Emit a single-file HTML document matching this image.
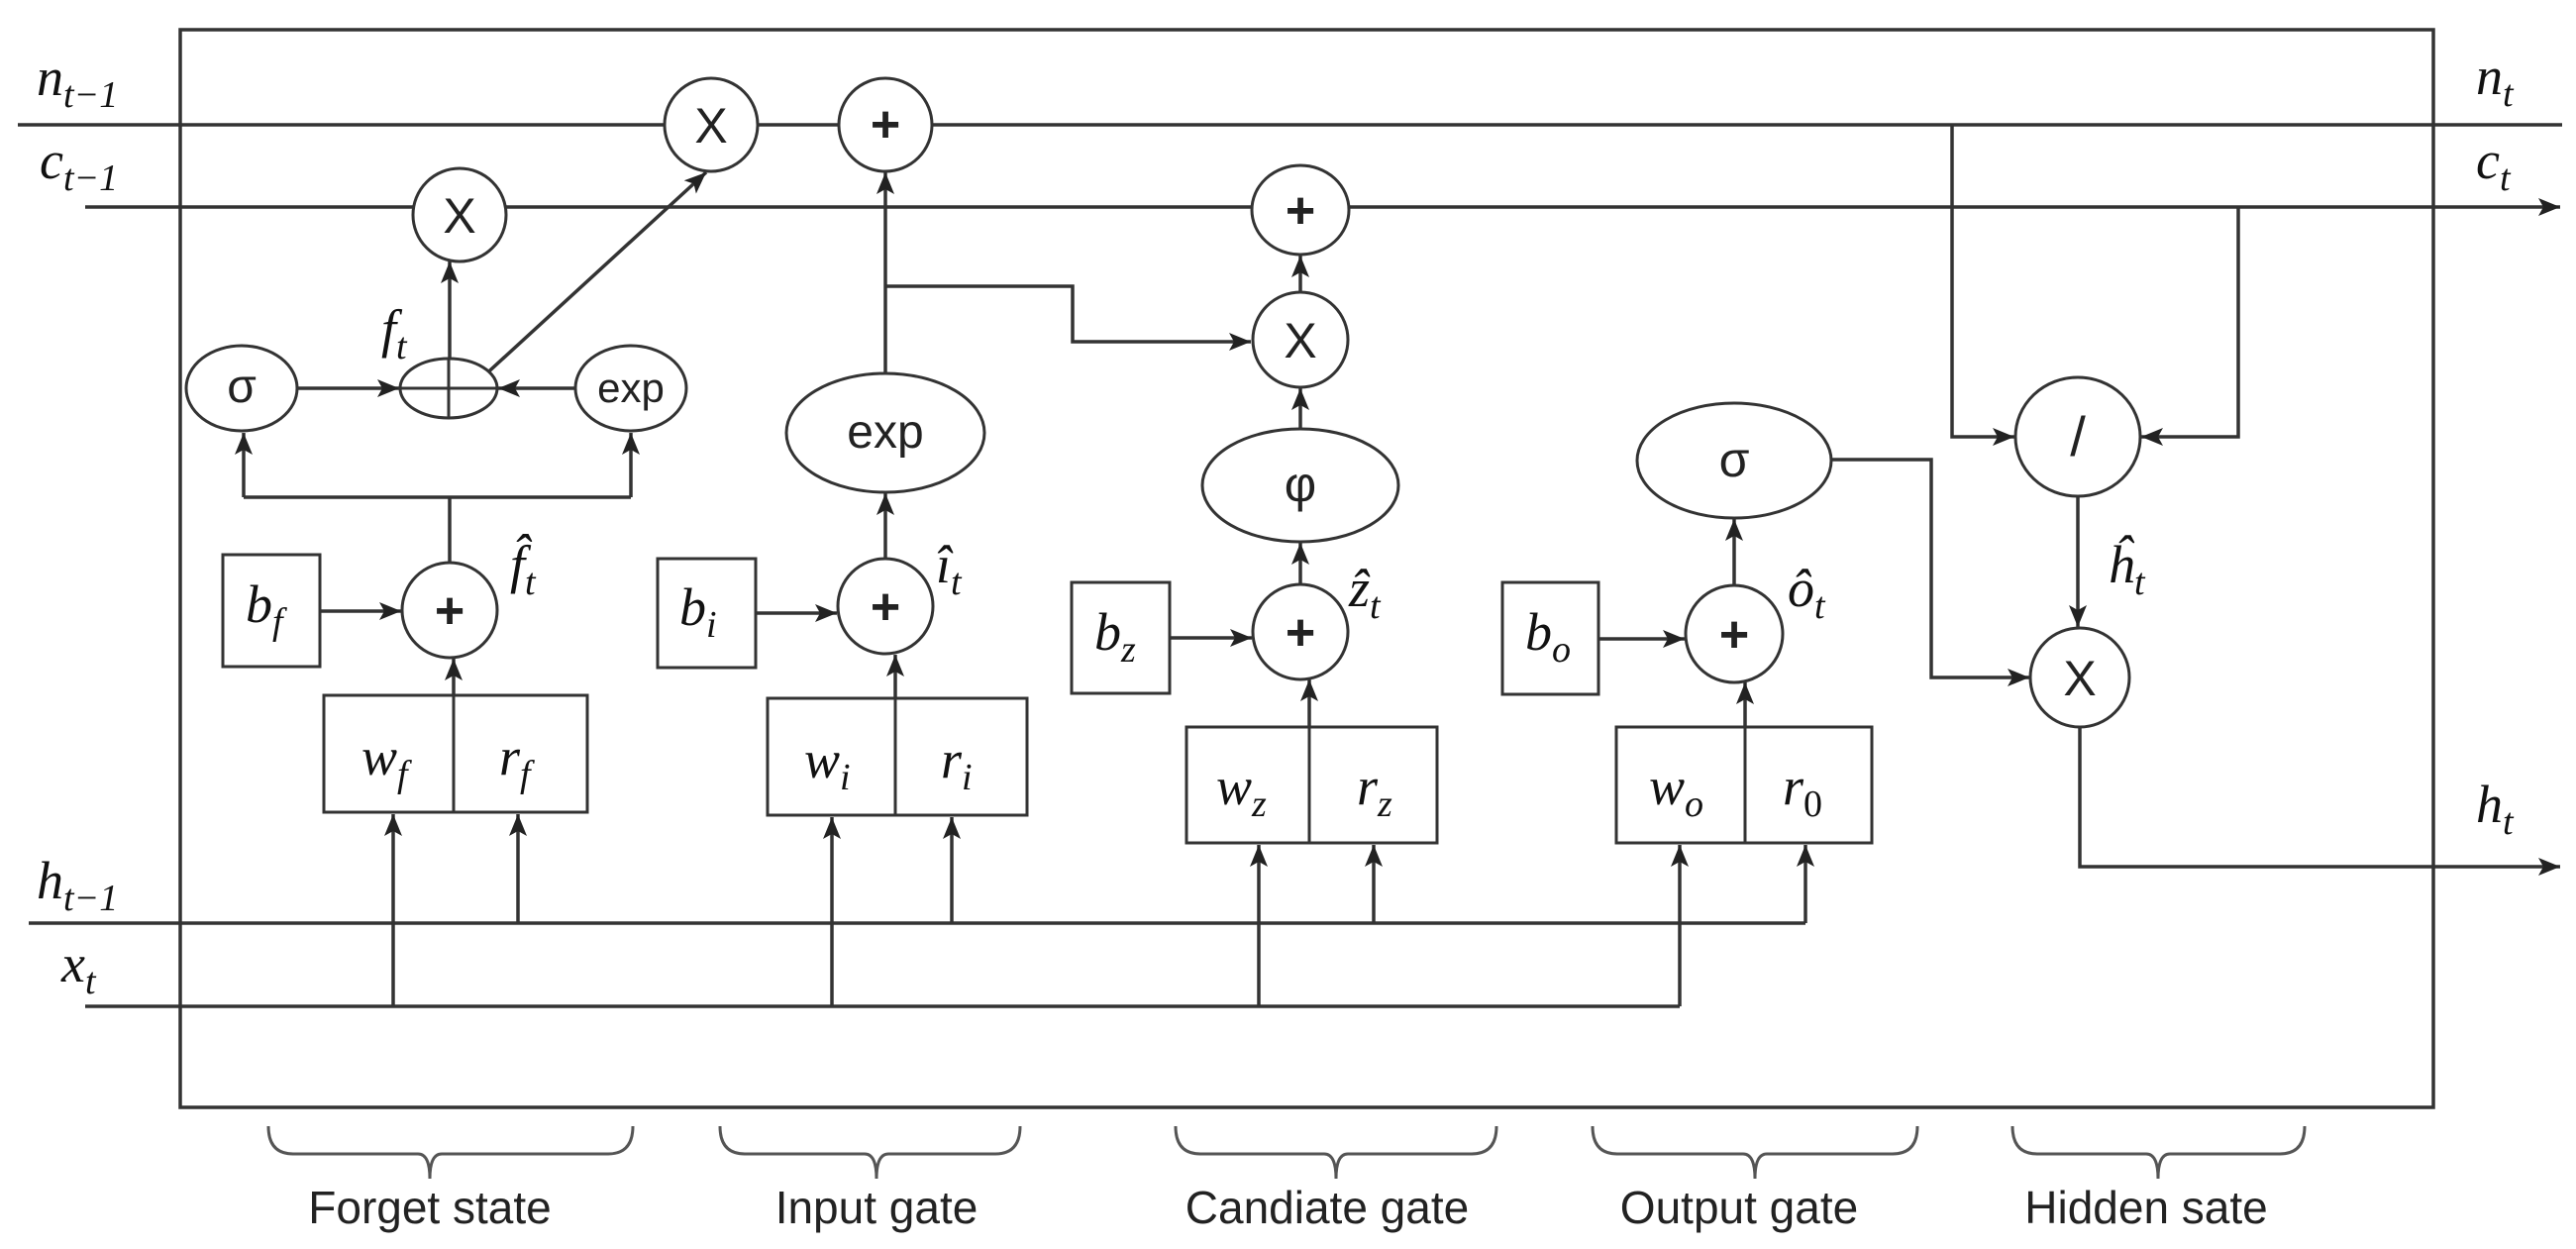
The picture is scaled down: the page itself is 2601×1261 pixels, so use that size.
<!DOCTYPE html>
<html><head><meta charset="utf-8"><style>
html,body{margin:0;padding:0;background:#fff;}
svg{display:block;}
.m{font-family:"Liberation Serif",serif;font-style:italic;fill:#111;}
.s{font-family:"Liberation Sans",sans-serif;fill:#222;}
</style></head><body>
<svg width="2601" height="1261" viewBox="0 0 2601 1261" xmlns="http://www.w3.org/2000/svg">
<defs>
<marker id="a" markerUnits="userSpaceOnUse" markerWidth="24" markerHeight="20" refX="22" refY="10" orient="auto">
<path d="M0,1 L22,10 L0,19 L5,10 Z" fill="#222"/>
</marker>
</defs>
<rect width="2601" height="1261" fill="#fff"/>
<g stroke="#333" stroke-width="3.5" fill="none">
<rect x="182" y="30" width="2275" height="1088"/>
<line x1="18" y1="126" x2="2587" y2="126"/>
<line x1="86" y1="209" x2="2585" y2="209" marker-end="url(#a)"/>
<line x1="29" y1="932" x2="1823" y2="932"/>
<line x1="86" y1="1016" x2="1696" y2="1016"/>
<line x1="454" y1="362" x2="454" y2="264" marker-end="url(#a)"/>
<line x1="486" y1="382" x2="713" y2="174" marker-end="url(#a)"/>
<line x1="300" y1="392" x2="403" y2="392" marker-end="url(#a)"/>
<line x1="580" y1="392" x2="503" y2="392" marker-end="url(#a)"/>
<polyline points="454,568 454,502"/>
<line x1="246" y1="502" x2="637" y2="502"/>
<line x1="246" y1="502" x2="246" y2="437" marker-end="url(#a)"/>
<line x1="637" y1="502" x2="637" y2="437" marker-end="url(#a)"/>
<line x1="323" y1="617" x2="405" y2="617" marker-end="url(#a)"/>
<line x1="458" y1="702" x2="458" y2="665" marker-end="url(#a)"/>
<line x1="397" y1="1016" x2="397" y2="822" marker-end="url(#a)"/>
<line x1="523" y1="932" x2="523" y2="822" marker-end="url(#a)"/>
<line x1="894" y1="377" x2="894" y2="174" marker-end="url(#a)"/>
<polyline points="894,289 1083,289 1083,345 1263,345" marker-end="url(#a)"/>
<line x1="894" y1="564" x2="894" y2="498" marker-end="url(#a)"/>
<line x1="763" y1="619" x2="845" y2="619" marker-end="url(#a)"/>
<line x1="904" y1="705" x2="904" y2="661" marker-end="url(#a)"/>
<line x1="840" y1="1016" x2="840" y2="825" marker-end="url(#a)"/>
<line x1="961" y1="932" x2="961" y2="825" marker-end="url(#a)"/>
<line x1="1313" y1="591" x2="1313" y2="548" marker-end="url(#a)"/>
<line x1="1313" y1="433" x2="1313" y2="392" marker-end="url(#a)"/>
<line x1="1313" y1="295" x2="1313" y2="258" marker-end="url(#a)"/>
<line x1="1181" y1="644" x2="1264" y2="644" marker-end="url(#a)"/>
<line x1="1322" y1="734" x2="1322" y2="686" marker-end="url(#a)"/>
<line x1="1271" y1="1016" x2="1271" y2="853" marker-end="url(#a)"/>
<line x1="1387" y1="932" x2="1387" y2="853" marker-end="url(#a)"/>
<line x1="1614" y1="645" x2="1701" y2="645" marker-end="url(#a)"/>
<line x1="1751" y1="592" x2="1751" y2="524" marker-end="url(#a)"/>
<line x1="1762" y1="734" x2="1762" y2="689" marker-end="url(#a)"/>
<line x1="1696" y1="1016" x2="1696" y2="853" marker-end="url(#a)"/>
<line x1="1823" y1="932" x2="1823" y2="853" marker-end="url(#a)"/>
<polyline points="1971,126 1971,441 2034,441" marker-end="url(#a)"/>
<polyline points="2260,209 2260,441 2162,441" marker-end="url(#a)"/>
<line x1="2098" y1="501" x2="2098" y2="633" marker-end="url(#a)"/>
<polyline points="1849,464 1950,464 1950,684 2049,684" marker-end="url(#a)"/>
<polyline points="2100,734 2100,875 2585,875" marker-end="url(#a)"/>
</g>
<g stroke="#333" stroke-width="3" fill="#fff">
<circle cx="718" cy="126" r="47"/>
<circle cx="894" cy="126" r="47"/>
<circle cx="464" cy="217" r="47"/>
<ellipse cx="244" cy="392" rx="56" ry="43"/>
<ellipse cx="453" cy="392" rx="49" ry="30"/>
<ellipse cx="637" cy="392" rx="56" ry="43"/>
<circle cx="454" cy="616" r="48"/>
<rect x="225" y="560" width="98" height="113"/>
<rect x="327" y="702" width="266" height="118"/>
<ellipse cx="894" cy="437" rx="100" ry="60"/>
<circle cx="894" cy="612" r="48"/>
<rect x="664" y="564" width="99" height="110"/>
<rect x="775" y="705" width="262" height="118"/>
<ellipse cx="1313" cy="212" rx="49" ry="45"/>
<circle cx="1313" cy="343" r="48"/>
<ellipse cx="1313" cy="490" rx="99" ry="57"/>
<circle cx="1313" cy="638" r="48"/>
<rect x="1082" y="588" width="99" height="112"/>
<rect x="1198" y="734" width="253" height="117"/>
<ellipse cx="1751" cy="465" rx="98" ry="58"/>
<circle cx="1751" cy="640" r="49"/>
<rect x="1517" y="588" width="97" height="113"/>
<rect x="1632" y="734" width="258" height="117"/>
<ellipse cx="2098" cy="441" rx="63" ry="60"/>
<circle cx="2100" cy="684" r="50"/>
</g>
<g stroke="#333" stroke-width="3" fill="none">
<line x1="453" y1="362" x2="453" y2="422"/><line x1="404" y1="392" x2="502" y2="392"/>
<line x1="458" y1="702" x2="458" y2="820"/>
<line x1="904" y1="705" x2="904" y2="823"/>
<line x1="1322" y1="734" x2="1322" y2="851"/>
<line x1="1762" y1="734" x2="1762" y2="851"/>
</g>
<g stroke="#555" stroke-width="3" fill="none">
<path d="M271 1137 Q271 1165 296 1165 L422 1165 Q434 1165 434 1190 Q434 1165 446 1165 L614 1165 Q639 1165 639 1137"/>
<path d="M727 1137 Q727 1165 752 1165 L873 1165 Q885 1165 885 1190 Q885 1165 897 1165 L1005 1165 Q1030 1165 1030 1137"/>
<path d="M1187 1137 Q1187 1165 1212 1165 L1337 1165 Q1349 1165 1349 1190 Q1349 1165 1361 1165 L1486 1165 Q1511 1165 1511 1137"/>
<path d="M1608 1137 Q1608 1165 1633 1165 L1760 1165 Q1772 1165 1772 1190 Q1772 1165 1784 1165 L1911 1165 Q1936 1165 1936 1137"/>
<path d="M2032 1137 Q2032 1165 2057 1165 L2167 1165 Q2179 1165 2179 1190 Q2179 1165 2191 1165 L2302 1165 Q2327 1165 2327 1137"/>
</g>
<g class="s" text-anchor="middle" font-size="46">
<text x="434" y="1235">Forget state</text>
<text x="885" y="1235">Input gate</text>
<text x="1340" y="1235">Candiate gate</text>
<text x="1756" y="1235">Output gate</text>
<text x="2167" y="1235">Hidden sate</text>
</g>
<g class="s" text-anchor="middle" fill="#222">
<text x="718" y="144" font-size="50">X</text>
<text x="894" y="143" font-size="52" font-weight="bold">+</text>
<text x="464" y="235" font-size="50">X</text>
<text x="244" y="406" font-size="48">σ</text>
<text x="637" y="406" font-size="42">exp</text>
<text x="454" y="634" font-size="52" font-weight="bold">+</text>
<text x="894" y="452" font-size="48">exp</text>
<text x="894" y="630" font-size="52" font-weight="bold">+</text>
<text x="1313" y="230" font-size="52" font-weight="bold">+</text>
<text x="1313" y="361" font-size="50">X</text>
<text x="1313" y="506" font-size="50">φ</text>
<text x="1313" y="656" font-size="52" font-weight="bold">+</text>
<text x="1751" y="481" font-size="50">σ</text>
<text x="1751" y="658" font-size="52" font-weight="bold">+</text>
<text x="2098" y="460" font-size="56">/</text>
<text x="2100" y="702" font-size="50">X</text>
</g>
<g class="m" font-size="54">
<text x="37" y="96">n<tspan font-size="38" dy="12">t−1</tspan></text>
<text x="40" y="180">c<tspan font-size="38" dy="12">t−1</tspan></text>
<text x="37" y="907">h<tspan font-size="38" dy="12">t−1</tspan></text>
<text x="62" y="991">x<tspan font-size="38" dy="12">t</tspan></text>
<text x="2500" y="95">n<tspan font-size="38" dy="12">t</tspan></text>
<text x="2500" y="180">c<tspan font-size="38" dy="12">t</tspan></text>
<text x="2500" y="830">h<tspan font-size="38" dy="12">t</tspan></text>
<text x="385" y="350">f<tspan font-size="38" dy="12">t</tspan></text>
<text x="515" y="588">f̂<tspan font-size="38" dy="12">t</tspan></text>
<text x="945" y="588">î<tspan font-size="38" dy="12">t</tspan></text>
<text x="1362" y="612">ẑ<tspan font-size="38" dy="12">t</tspan></text>
<text x="1805" y="612">ô<tspan font-size="38" dy="12">t</tspan></text>
<text x="2128" y="588">ĥ<tspan font-size="38" dy="12">t</tspan></text>
<text x="248" y="628">b<tspan font-size="38" dy="12">f</tspan></text>
<text x="686" y="631">b<tspan font-size="38" dy="12">i</tspan></text>
<text x="1105" y="656">b<tspan font-size="38" dy="12">z</tspan></text>
<text x="1540" y="656">b<tspan font-size="38" dy="12">o</tspan></text>
<text x="365" y="782">w<tspan font-size="38" dy="12">f</tspan></text>
<text x="504" y="782">r<tspan font-size="38" dy="12">f</tspan></text>
<text x="812" y="785">w<tspan font-size="38" dy="12">i</tspan></text>
<text x="950" y="785">r<tspan font-size="38" dy="12">i</tspan></text>
<text x="1228" y="812">w<tspan font-size="38" dy="12">z</tspan></text>
<text x="1370" y="812">r<tspan font-size="38" dy="12">z</tspan></text>
<text x="1665" y="812">w<tspan font-size="38" dy="12">o</tspan></text>
<text x="1800" y="812">r<tspan font-size="38" dy="12" font-style="normal">0</tspan></text>
</g>
</svg>
</body></html>
